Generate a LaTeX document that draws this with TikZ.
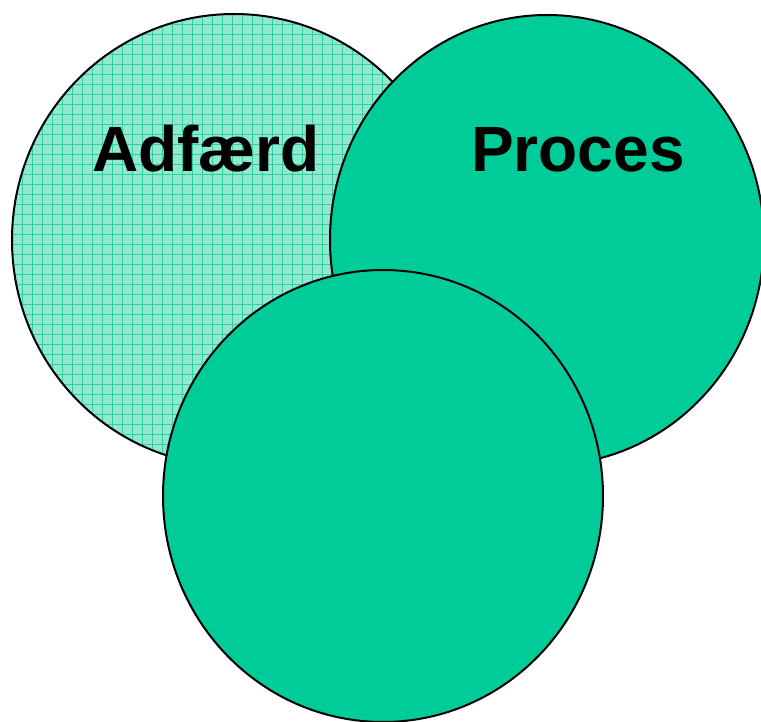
\documentclass[tikz,border=0pt]{standalone}
\usepackage{fontspec}
\setmainfont{Liberation Sans}
\definecolor{teal1}{HTML}{00CC99}
\definecolor{lightteal}{HTML}{90E8D0}
\definecolor{gridteal}{HTML}{30D0A0}
\tikzset{blob/.style={draw=black, line width=2pt, fill=teal1},
  lbl/.style={font=\fontsize{64}{70}\selectfont\bfseries, anchor=base, inner sep=0pt}}
\begin{document}
\begin{tikzpicture}[x=1pt,y=-1pt]
\useasboundingbox (0,0) rectangle (761,722);
\begin{scope}
\clip (234,240) ellipse [x radius=222, y radius=226];
\fill[lightteal] (0,0) rectangle (761,722);
\foreach \i in {0,10,...,760} {\draw[gridteal, line width=0.8pt] (\i+2,0) -- (\i+2,722);}
\foreach \i in {0,10,...,720} {\draw[gridteal, line width=0.8pt] (0,\i+4) -- (761,\i+4);}
\end{scope}
\draw[line width=2pt] (234,240) ellipse [x radius=222, y radius=226];
\node[lbl] (adf) at (206,172) {Adfærd};
\path[blob] (547,240) ellipse [x radius=217, y radius=225];
\node[lbl] (pro) at (578,172) {Proces};
\path[blob] (383,496) ellipse [x radius=220, y radius=226];
\end{tikzpicture}
\end{document}
